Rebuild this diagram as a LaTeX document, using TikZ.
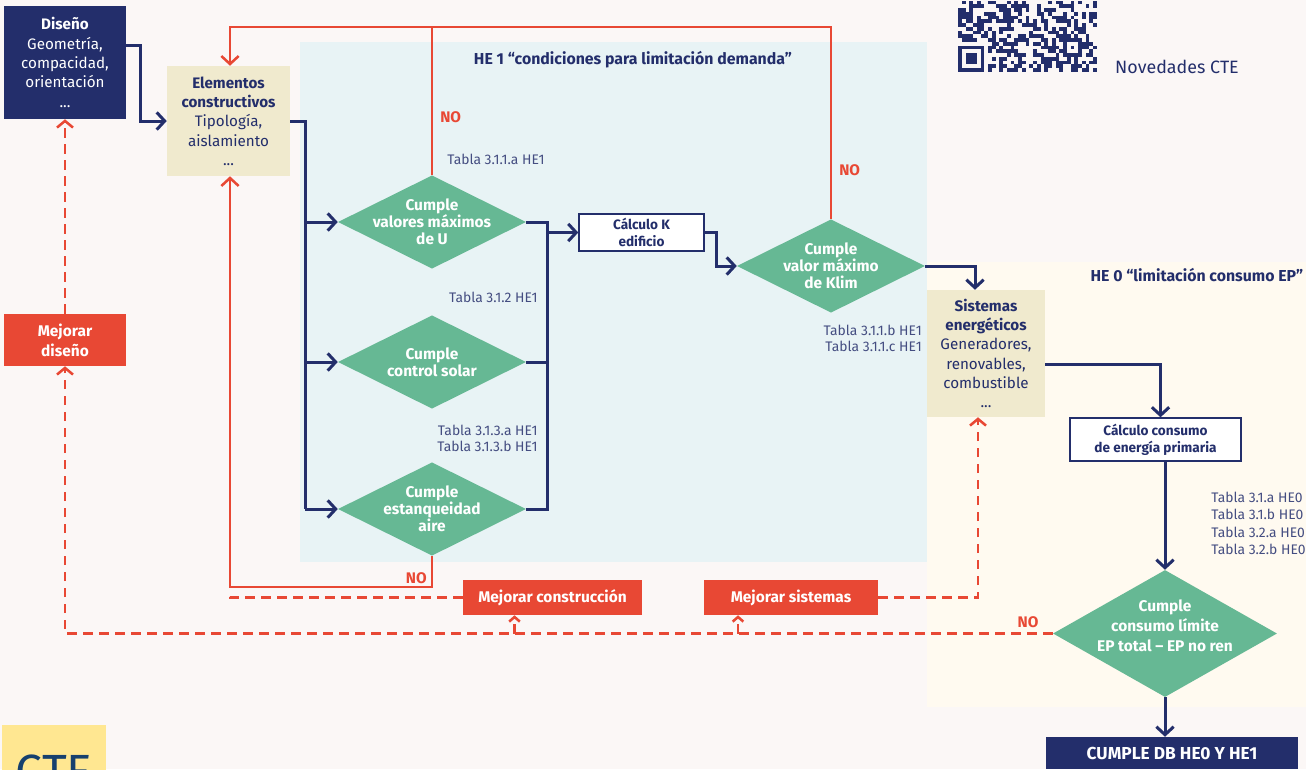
\documentclass[tikz,border=0pt]{standalone}
\usepackage{fontspec}
\setmainfont{Fira Sans}
\usetikzlibrary{arrows.meta,shapes.geometric,calc}

\definecolor{navy}{RGB}{35,46,107}
\definecolor{redc}{RGB}{232,72,52}
\definecolor{greenc}{RGB}{102,184,148}
\definecolor{beige}{RGB}{240,234,206}
\definecolor{bluebg}{RGB}{232,243,245}
\definecolor{creambg}{RGB}{255,250,240}
\definecolor{pagebg}{RGB}{251,247,246}
\definecolor{yellowc}{RGB}{255,231,145}
\definecolor{ctebl}{RGB}{22,64,110}

\begin{document}
\begin{tikzpicture}[x=0.75pt,y=-0.75pt,>={Straight Barb[length=6pt,width=13pt]},
  box/.style={rectangle,inner sep=0pt,align=center,font=\fontsize{11.4}{14.5}\selectfont},
  darkbox/.style={box,fill=navy,text=white},
  beigebox/.style={box,fill=beige,text=navy},
  redbox/.style={box,fill=redc,text=white,font=\fontsize{11.6}{15}\selectfont\bfseries},
  smallbox/.style={box,fill=white,draw=navy,line width=1.1pt,text=navy,font=\fontsize{10.2}{12.8}\selectfont\bfseries},
  decision/.style={diamond,fill=greenc,inner sep=0pt,minimum width=141pt,minimum height=70pt},
  dtext/.style={text=white,align=center,font=\fontsize{11.6}{12.75}\selectfont\bfseries},
  tabla/.style={text=navy!85,inner sep=0pt,font=\fontsize{10.4}{12}\selectfont},
  titulo/.style={text=navy,font=\fontsize{11.9}{13}\selectfont\bfseries},
  nolabel/.style={text=redc,inner sep=0pt,font=\fontsize{11.5}{13}\selectfont\bfseries},
  flow/.style={draw=navy,line width=2.25pt},
  fallo/.style={draw=redc,line width=1.9pt},
  mejora/.style={fallo,dash pattern=on 7pt off 5pt,>={Straight Barb[length=5pt,width=12pt]}},
  mejorita/.style={mejora,>={Straight Barb[length=3.5pt,width=8pt]}}]

  \useasboundingbox (0,0) rectangle (1306,769);
  \clip (0,0) rectangle (1306,769);
  \fill[pagebg] (0,0) rectangle (1306,769);
  \fill[creambg] (927,262) rectangle (1306,707);
  \fill[bluebg] (300,42) rectangle (927,562);

  % QR
  \pgfmathsetseed{42}
  \foreach \c in {0,...,36}{
    \foreach \r in {0,...,18}{
      \pgfmathrandominteger{\q}{0}{1}
      \ifnum\q=1 \fill[navy] ({958+3.75*\c},{0.5+3.75*\r}) rectangle ++(3.75,3.75);\fi
    }
  }
  \fill[pagebg] (958,{0.5+3.75*11}) rectangle ++(30,30);
  \fill[navy] (958,{0.5+3.75*12}) rectangle ++(26.25,26.25);
  \fill[pagebg] ({958+3.75},{0.5+3.75*13}) rectangle ++(18.75,18.75);
  \fill[navy] ({958+7.5},{0.5+3.75*14}) rectangle ++(11.25,11.25);
  \fill[navy] (1063,38) rectangle ++(18.75,18.75);
  \fill[pagebg] (1066.75,41.75) rectangle ++(11.25,11.25);
  \fill[navy] (1070.5,45.5) rectangle ++(3.75,3.75);
  \node[text=navy,font=\fontsize{13.4}{15}\selectfont] (nov) at (1177,67) {Novedades CTE};

  \fill[yellowc] (2,725) rectangle (106,780);
  \node[text=ctebl,font=\fontsize{36}{36}\selectfont,anchor=base] (cte) at (54,788) {CTE};

  \node[titulo] (he1) at (633,60) {HE 1 “condiciones para limitación demanda”};
  \node[titulo,anchor=east] (he0) at (1308,275) {HE 0 “limitación consumo EP”};

  \node[darkbox,minimum width=91.5pt,minimum height=84.75pt] (diseno) at (65,62.5)
    {\textbf{Diseño}\\Geometría,\\compacidad,\\orientación\\...};
  \node[beigebox,minimum width=92.25pt,minimum height=82.5pt] (elem) at (228.5,121)
    {\textbf{Elementos}\\\textbf{constructivos}\\Tipología,\\aislamiento\\...};
  \node[redbox,minimum width=91.5pt,minimum height=39pt] (mdis) at (65,340) {Mejorar\\diseño};

  \node[decision,label={[dtext]center:{Cumple\\valores máximos\\de U}}] (d1) at (432,222) {};
  \node[decision,label={[dtext]center:{Cumple\\control solar}}] (d2) at (432,362) {};
  \node[decision,label={[dtext]center:{Cumple\\estanqueidad\\aire}}] (d3) at (432,509) {};
  \node[smallbox,minimum width=93.75pt,minimum height=27.75pt] (calck) at (641.5,232.5) {Cálculo K\\edificio};
  \node[decision,label={[dtext]center:{Cumple\\valor máximo\\de Klim}}] (d4) at (831,266) {};
  \node[beigebox,minimum width=88.5pt,minimum height=95.25pt] (sis) at (986,353.5)
    {\textbf{Sistemas}\\\textbf{energéticos}\\Generadores,\\renovables,\\combustible\\...};
  \node[smallbox,minimum width=128.25pt,minimum height=32.25pt] (calce) at (1155.5,439.5)
    {Cálculo consumo\\de energía primaria};
  \node[decision,minimum width=168pt,minimum height=95.25pt,
    label={[dtext,yshift=6pt,font=\fontsize{11.6}{15}\selectfont\bfseries]center:{Cumple\\consumo límite\\EP total – EP no ren}}] (d5) at (1165,633.5) {};
  \node[darkbox,font=\fontsize{13}{14}\selectfont\bfseries,minimum width=189pt,minimum height=24pt] (cumple) at (1172,753)
    {CUMPLE DB HE0 Y HE1};
  \node[redbox,minimum width=134.25pt,minimum height=26.25pt] (mcon) at (552.5,597.5) {Mejorar construcción};
  \node[redbox,minimum width=130.5pt,minimum height=26.25pt] (msis) at (791,597.5) {Mejorar sistemas};

  \node[tabla,anchor=west] (t1) at (447,159) {Tabla 3.1.1.a HE1};
  \node[tabla,anchor=east] (t2) at (538,297) {Tabla 3.1.2 HE1};
  \node[tabla,anchor=east,align=right] (t3) at (538,438.5) {Tabla 3.1.3.a HE1\\Tabla 3.1.3.b HE1};
  \node[tabla,anchor=east,align=right] (t4) at (922,338) {Tabla 3.1.1.b HE1\\Tabla 3.1.1.c HE1};
  \node[tabla,anchor=west,align=left,font=\fontsize{10.4}{13}\selectfont] (t5) at (1211,523.5)
    {Tabla 3.1.a HE0\\Tabla 3.1.b HE0\\Tabla 3.2.a HE0\\Tabla 3.2.b HE0};

  \node[nolabel,anchor=west] (no1) at (440,117) {NO};
  \node[nolabel,anchor=west] (no2) at (839,170) {NO};
  \node[nolabel,anchor=east] (no3) at (427,578) {NO};
  \node[nolabel] (no4) at (1028,622) {NO};

  \coordinate (busl) at (305,0);
  \coordinate (busr) at (547,0);
  \coordinate (topy) at (0,27);
  \coordinate (boty) at (0,587);
  \coordinate (elt) at ($(elem.north)+(1.5,0)$);
  \coordinate (elb) at ($(elem.south)+(1.5,0)$);
  \coordinate (mcarr) at ($(mcon.south)+(-38,0)$);
  \coordinate (msarr) at ($(msis.south)+(-53,0)$);

  \draw[flow,->] ($(diseno.east)+(0,-17)$) -- ++(14,0) |- (elem.west);
  \draw[flow] (elem.east) -| (busl |- d3.west);
  \foreach \d in {d1,d2,d3}
    \draw[flow,->] (busl |- \d.west) -- (\d.west);
  \draw[flow] (d1.east) -| (busr |- d3.east) -- (d3.east);
  \draw[flow] (d2.east) -- (busr |- d2.east);
  \draw[flow,->] (busr |- calck.west) -- (calck.west);
  \draw[flow,->] (calck.east) -- ++(12,0) |- (d4.west);
  \draw[flow,->] (d4.east) -| ($(sis.north)+(-11,0)$);
  \draw[flow,->] ($(sis.east)+(0,11)$) -| ($(calce.north)+(5,0)$);
  \draw[flow,->] (d5.north |- calce.south) -- (d5.north);
  \draw[flow,->] (d5.south) -- (d5.south |- cumple.north);

  \draw[fallo,->] (d4.north) -- (d4.north |- topy) -| (elt);
  \draw[fallo] (d1.north) -- (d1.north |- topy);
  \draw[fallo,->] (d3.south) -- (d3.south |- boty) -| (elb);

  \draw[mejora] (mcon.west) -| (elb |- 0,593);
  \draw[mejora,->] (d5.west) -| (mdis.south);
  \draw[mejorita,->] (mcarr |- d5.west) -- (mcarr);
  \draw[mejorita,->] (msarr |- d5.west) -- (msarr);
  \draw[mejora,->] (mdis.north) -- (diseno.south);
  \draw[mejora,->] (msis.east) -| ($(sis.south)+(-8,0)$);
\end{tikzpicture}
\end{document}
